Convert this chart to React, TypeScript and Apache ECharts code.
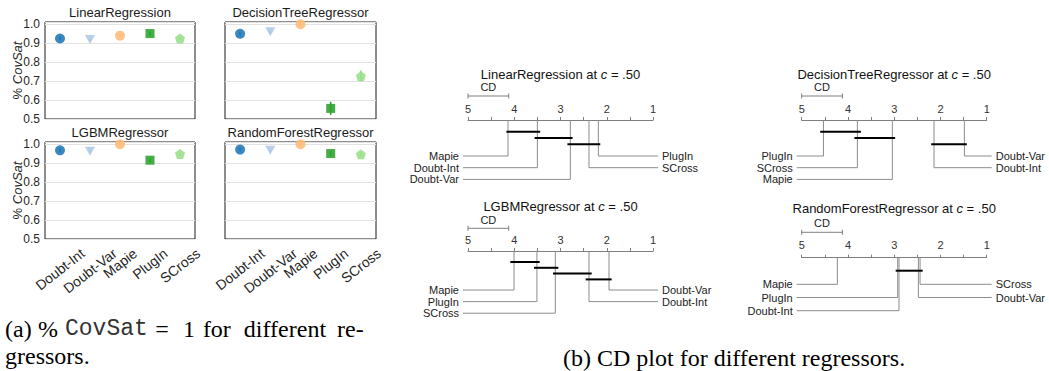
import React, { useEffect, useRef } from "react";
import * as echarts from "echarts";

const SANS = '"Liberation Sans", Arial, sans-serif';
const SERIF = '"Liberation Serif", "Times New Roman", serif';
const MONO = '"Liberation Mono", "Courier New", monospace';

// ---------- data ----------
const methods = ["Doubt-Int", "Doubt-Var", "Mapie", "PlugIn", "SCross"];
const methodColors = ["#1f77b4", "#aec7e8", "#ffbb78", "#2ca02c", "#98df8a"];
const panelTitles = ["LinearRegression", "DecisionTreeRegressor", "LGBMRegressor", "RandomForestRegressor"];

// % CovSat per method (order = methods)
const covLinear = [0.925, 0.92, 0.94, 0.951, 0.925];
const covTree = [0.95, 0.96, 1.0, 0.556, 0.726];
const covLGBM = [0.968, 0.963, 1.0, 0.916, 0.949];
const covForest = [0.972, 0.968, 1.0, 0.951, 0.947];

const errLinear = [0.01, 0.008, 0.008, 0.01, 0.008];
const errTree = [0.01, 0.008, 0.008, 0.035, 0.03];
const errLGBM = [0.01, 0.008, 0.008, 0.01, 0.008];
const errForest = [0.01, 0.008, 0.008, 0.01, 0.008];

const yMin = 0.5;
const yMax = 1.012;

// CD plots: average ranks per method (order = methods)
const cdValue = 0.88;
const rankLinear = [3.5, 2.787, 4.135, 2.182, 2.384];
const rankTree = [2.139, 1.483, 3.04, 4.53, 3.796];
const rankLGBM = [2.384, 1.951, 4.005, 3.51, 3.112];
const rankForest = [2.896, 2.477, 4.229, 2.924, 2.441];

// cliques: [from rank, to rank]
const cliquesLinear = [[4.17, 3.44], [3.56, 2.74], [2.85, 2.14]];
const cliquesTree = [[4.6, 3.72], [3.86, 2.98], [2.2, 1.43]];
const cliquesLGBM = [[4.085, 3.45], [3.573, 3.047], [3.162, 2.326], [2.456, 1.894]];
const cliquesForest = [[2.968, 2.384]];

// ---------- styling / layout ----------
const symbols = [
  "circle",
  "triangle",
  "circle",
  "rect",
  "path://M0,-1L0.951,-0.309L0.588,0.809L-0.588,0.809L-0.951,-0.309Z",
];
const symbolRotates = [0, 180, 0, 0, 0];
const symbolSizes: any[] = [10, [10, 9], 10, 9, 10];

const covPanels = [
  { title: panelTitles[0], values: covLinear, errs: errLinear, grid: { left: 45, top: 22, width: 150, height: 97 }, showY: true, showX: false },
  { title: panelTitles[1], values: covTree, errs: errTree, grid: { left: 225, top: 22, width: 151, height: 97 }, showY: false, showX: false },
  { title: panelTitles[2], values: covLGBM, errs: errLGBM, grid: { left: 45, top: 142, width: 150, height: 97 }, showY: true, showX: true },
  { title: panelTitles[3], values: covForest, errs: errForest, grid: { left: 225, top: 142, width: 151, height: 97 }, showY: false, showX: true },
];

const cdPanels = [
  { title: panelTitles[0], ranks: rankLinear, cliques: cliquesLinear, left: 468, axisY: 120, titleDy: -46, cdLabelDy: -33, cdBarDy: -24, tickMargin: 6, cliqueDy: 11.7, cliqueGap: 6.3, rowDy: 36, rowGap: 11.7 },
  { title: panelTitles[1], ranks: rankTree, cliques: cliquesTree, left: 801.7, axisY: 120, titleDy: -46, cdLabelDy: -33, cdBarDy: -24, tickMargin: 6, cliqueDy: 11.7, cliqueGap: 6.3, rowDy: 36, rowGap: 11.7 },
  { title: panelTitles[2], ranks: rankLGBM, cliques: cliquesLGBM, left: 468, axisY: 251, titleDy: -44.3, cdLabelDy: -31, cdBarDy: -22.7, tickMargin: 5.5, cliqueDy: 11, cliqueGap: 5.8, rowDy: 39, rowGap: 11.6 },
  { title: panelTitles[3], ranks: rankForest, cliques: cliquesForest, left: 801.7, axisY: 257.7, titleDy: -49.4, cdLabelDy: -34.4, cdBarDy: -25.4, tickMargin: 7, cliqueDy: 13, cliqueGap: 6, rowDy: 26.6, rowGap: 13.2 },
];

const xLabelSize = 14;
const xLabelRotate = 38;
const xLabelPad = 7;

let measureCtx: CanvasRenderingContext2D | null = null;
function measure(text: string, size: number) {
  if (!measureCtx) measureCtx = document.createElement("canvas").getContext("2d");
  if (!measureCtx) return text.length * size * 0.55;
  measureCtx.font = `${size}px ${SANS}`;
  return measureCtx.measureText(text).width;
}

function buildOption() {
  const grid: any[] = [];
  const xAxis: any[] = [];
  const yAxis: any[] = [];
  const series: any[] = [];
  const graphic: any[] = [];

  covPanels.forEach((p, k) => {
    grid.push({ ...p.grid, show: true, borderColor: "#1a1a1a", borderWidth: 1, backgroundColor: "transparent" });
    xAxis.push({
      type: "category", gridIndex: k, data: methods, boundaryGap: true,
      axisLine: { show: false }, axisTick: { show: false }, axisLabel: { show: false }, splitLine: { show: false },
    });
    yAxis.push({
      type: "value", gridIndex: k, min: yMin, max: yMax, interval: 0.1,
      axisLine: { show: false }, axisTick: { show: false },
      splitLine: { show: true, lineStyle: { color: "#e3e3e3", width: 1 } },
      axisLabel: {
        show: p.showY, showMaxLabel: false, margin: 5, fontSize: 12, fontFamily: SANS, color: "#262626",
        formatter: (v: number) => (Math.abs(v * 10 - Math.round(v * 10)) < 1e-6 ? v.toFixed(1) : ""),
      },
      name: p.showY ? "{a|% }{b|CovSat}" : "",
      nameLocation: "middle", nameGap: 21, nameMoveOverlap: false,
      nameTextStyle: {
        rich: {
          a: { fontSize: 13, fontFamily: SANS, color: "#262626" },
          b: { fontSize: 13, fontFamily: SANS, fontStyle: "italic", color: "#262626" },
        },
      },
    });
    // error bars
    series.push({
      type: "custom", xAxisIndex: k, yAxisIndex: k, clip: false, silent: true, z: 2,
      data: p.values.map((v, i) => [i, v - p.errs[i], v + p.errs[i]]),
      renderItem: (params: any, api: any) => {
        const i = params.dataIndex;
        const a = api.coord([api.value(0), api.value(1)]);
        const b = api.coord([api.value(0), api.value(2)]);
        return { type: "line", shape: { x1: a[0], y1: a[1], x2: b[0], y2: b[1] }, style: { stroke: methodColors[i], lineWidth: 1.6 } };
      },
    });
    // markers
    series.push({
      type: "scatter", xAxisIndex: k, yAxisIndex: k, clip: false, z: 3,
      data: p.values.map((v, i) => ({
        value: [i, v], symbol: symbols[i], symbolSize: symbolSizes[i], symbolRotate: symbolRotates[i],
        itemStyle: { color: methodColors[i], opacity: 0.88 },
      })),
    });
    // rotated x labels (matplotlib style, centred under the tick)
    if (p.showX) {
      series.push({
        type: "custom", xAxisIndex: k, yAxisIndex: k, clip: false, silent: true, z: 4,
        data: methods.map((_, i) => [i, yMin]),
        renderItem: (params: any, api: any) => {
          const i = params.dataIndex;
          const pt = api.coord([api.value(0), api.value(1)]);
          const name = methods[i];
          const w = measure(name, xLabelSize);
          const th = (xLabelRotate * Math.PI) / 180;
          const cy = pt[1] + xLabelPad + (w * Math.sin(th) + xLabelSize * Math.cos(th)) / 2;
          return {
            type: "text", x: pt[0], y: cy, rotation: th,
            style: { text: name, fontSize: xLabelSize, fontFamily: SANS, fill: "#262626", align: "center", verticalAlign: "middle" },
          };
        },
      });
    }
    // title
    graphic.push({
      type: "text", x: p.grid.left + p.grid.width / 2, y: p.grid.top - 9.5,
      style: { text: p.title, fontSize: 13, fontFamily: SANS, fill: "#1a1a1a", align: "center", textAlign: "center", verticalAlign: "middle", textVerticalAlign: "middle" },
    });
  });

  cdPanels.forEach((p, j) => {
    const gi = covPanels.length + j;
    grid.push({ left: p.left, top: p.axisY, width: 185, height: 70, show: false });
    xAxis.push({
      type: "value", gridIndex: gi, min: 1, max: 5, interval: 1, inverse: true, position: "top",
      axisLine: { show: true, onZero: false, lineStyle: { color: "#7f7f7f", width: 1 } },
      axisTick: { show: true, length: 3, inside: false, lineStyle: { color: "#7f7f7f" } },
      minorTick: { show: true, splitNumber: 2, length: 3, lineStyle: { color: "#7f7f7f" } },
      splitLine: { show: false }, minorSplitLine: { show: false },
      axisLabel: { show: true, margin: p.tickMargin, fontSize: 11, fontFamily: SANS, color: "#333" },
    });
    yAxis.push({ type: "value", gridIndex: gi, min: 0, max: 70, inverse: true, show: false, splitLine: { show: false } });

    const order = methods.map((_, i) => i).sort((a, b) => p.ranks[b] - p.ranks[a]);
    const nLeft = Math.ceil(methods.length / 2);
    const leftIdx = order.slice(0, nLeft);
    const rightIdx = order.slice(nLeft).reverse();
    const lineData = [
      ...leftIdx.map((m, r) => [p.ranks[m], p.rowDy + r * p.rowGap, 0, m]),
      ...rightIdx.map((m, r) => [p.ranks[m], p.rowDy + r * p.rowGap, 1, m]),
    ];

    // method lines and labels
    series.push({
      type: "custom", xAxisIndex: gi, yAxisIndex: gi, clip: false, silent: true, z: 2,
      data: lineData,
      renderItem: (params: any, api: any) => {
        const rank = api.value(0);
        const rowY = api.value(1);
        const side = api.value(2);
        const name = methods[api.value(3)];
        const top = api.coord([rank, 0]);
        const bot = api.coord([rank, rowY]);
        const endX = side === 0 ? api.coord([5, 0])[0] - 5 : api.coord([1, 0])[0] + 5;
        return {
          type: "group",
          children: [
            { type: "polyline", shape: { points: [top, bot, [endX, bot[1]]] }, style: { stroke: "#8c8c8c", lineWidth: 1, fill: null } },
            {
              type: "text", x: side === 0 ? endX - 4 : endX + 4, y: bot[1],
              style: { text: name, fontSize: 11, fontFamily: SANS, fill: "#222", align: side === 0 ? "right" : "left", verticalAlign: "middle" },
            },
          ],
        };
      },
    });
    // cliques
    series.push({
      type: "custom", xAxisIndex: gi, yAxisIndex: gi, clip: false, silent: true, z: 3,
      data: p.cliques.map((c, r) => [c[0], c[1], p.cliqueDy + r * p.cliqueGap]),
      renderItem: (params: any, api: any) => {
        const a = api.coord([api.value(0), api.value(2)]);
        const b = api.coord([api.value(1), api.value(2)]);
        return { type: "line", shape: { x1: a[0], y1: a[1], x2: b[0], y2: b[1] }, style: { stroke: "#000", lineWidth: 2 } };
      },
    });
    // CD bar + title
    series.push({
      type: "custom", xAxisIndex: gi, yAxisIndex: gi, clip: false, silent: true, z: 3,
      data: [[5, 5 - cdValue]],
      renderItem: (params: any, api: any) => {
        const a = api.coord([api.value(0), p.cdBarDy]);
        const b = api.coord([api.value(1), p.cdBarDy]);
        const mid = api.coord([(api.value(0) + api.value(1)) / 2, p.cdLabelDy]);
        const t = api.coord([3, p.titleDy]);
        return {
          type: "group",
          children: [
            { type: "line", shape: { x1: a[0], y1: a[1], x2: b[0], y2: b[1] }, style: { stroke: "#7f7f7f", lineWidth: 1 } },
            { type: "line", shape: { x1: a[0], y1: a[1] - 2.5, x2: a[0], y2: a[1] + 2.5 }, style: { stroke: "#7f7f7f", lineWidth: 1 } },
            { type: "line", shape: { x1: b[0], y1: b[1] - 2.5, x2: b[0], y2: b[1] + 2.5 }, style: { stroke: "#7f7f7f", lineWidth: 1 } },
            { type: "text", x: mid[0], y: mid[1], style: { text: "CD", fontSize: 11, fontFamily: SANS, fill: "#222", align: "center", verticalAlign: "middle" } },
            {
              type: "text", x: t[0], y: t[1],
              style: {
                text: `{n|${p.title} at }{i|c}{n| = .50}`,
                rich: {
                  n: { fontSize: 13, fontFamily: SANS, fill: "#111" },
                  i: { fontSize: 13, fontFamily: SANS, fontStyle: "italic", fill: "#111" },
                },
                fontSize: 13, fontFamily: SANS, fill: "#111",
                align: "center", verticalAlign: "middle",
              },
            },
          ],
        };
      },
    });
  });

  // captions (first line of (a) is justified to the sub-figure width)
  const cap = { fontSize: 24, fontFamily: SERIF, fill: "#000" };
  graphic.push({
    type: "text", x: 5, y: 329,
    style: {
      text:
        "{s|(a)}{g1|\u00a0}{s|%}{g2|\u00a0}{m|CovSat}{g3|\u00a0}{s|=}{g4|\u00a0}{s|1}{g5|\u00a0}{s|for}{g6|\u00a0}{s|different}{g7|\u00a0}{s|re-}",
      rich: {
        s: cap,
        m: { fontSize: 23, fontFamily: MONO, fill: "#333" },
        g1: { ...cap, width: 6.4 },
        g2: { ...cap, width: 7 },
        g3: { ...cap, width: 7.5 },
        g4: { ...cap, width: 14 },
        g5: { ...cap, width: 8 },
        g6: { ...cap, width: 13 },
        g7: { ...cap, width: 11 },
      },
      ...cap,
      align: "left", textAlign: "left", verticalAlign: "middle", textVerticalAlign: "middle",
    },
  });
  graphic.push({
    type: "text", x: 5, y: 355.5,
    style: { text: "gressors.", ...cap, align: "left", textAlign: "left", verticalAlign: "middle", textVerticalAlign: "middle" },
  });
  graphic.push({
    type: "text", x: 563, y: 358,
    style: { text: "(b) CD plot for different regressors.", ...cap, align: "left", textAlign: "left", verticalAlign: "middle", textVerticalAlign: "middle" },
  });

  return {
    animation: false,
    backgroundColor: "#ffffff",
    grid, xAxis, yAxis, series, graphic,
  };
}

export default function App() {
  const ref = useRef<HTMLDivElement>(null);
  useEffect(() => {
    if (!ref.current) return;
    const chart = echarts.init(ref.current, null, { renderer: "svg" });
    chart.setOption(buildOption() as any);
    return () => chart.dispose();
  }, []);
  return (
    <div
      ref={ref}
      style={{ position: "fixed", left: 0, top: 0, width: 1049, height: 371, background: "#fff" }}
    />
  );
}
